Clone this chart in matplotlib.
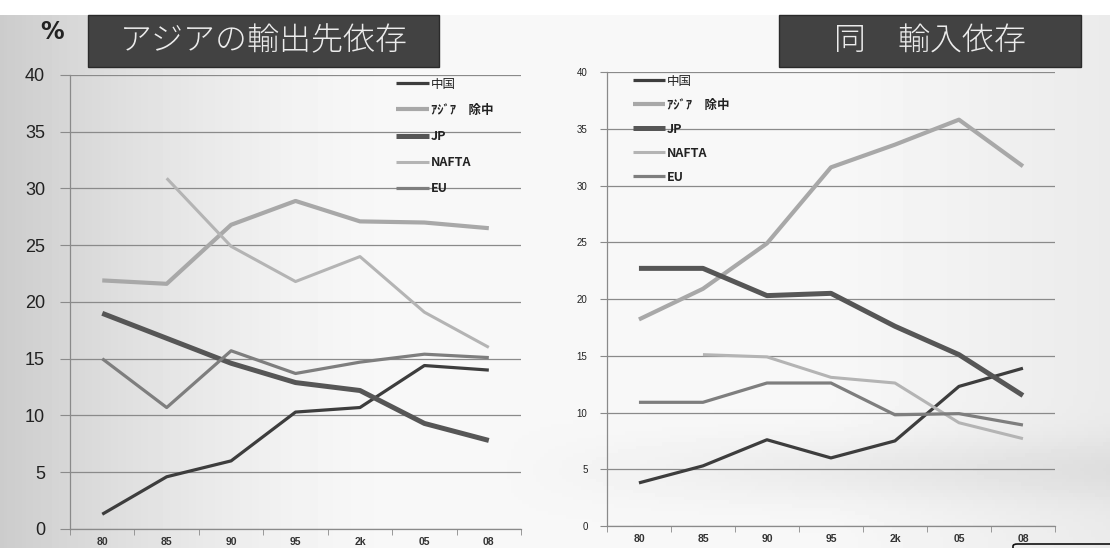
import numpy as np
import matplotlib
matplotlib.use('Agg')
import matplotlib.pyplot as plt
from matplotlib.patches import Rectangle, FancyBboxPatch

plt.rcParams['font.family'] = ['Noto Sans CJK JP', 'DejaVu Sans']

# -------------------------------
# data
# -------------------------------
years = ['80', '85', '90', '95', '2k', '05', '08']
labels = ['中国', 'ｱｼﾞｱ　除中', 'JP', 'NAFTA', 'EU']

# export dependence
exp_china = [1.3, 4.6, 6.0, 10.3, 10.7, 14.4, 14.0]
exp_asia = [21.9, 21.6, 26.8, 28.9, 27.1, 27.0, 26.5]
exp_jp = [19.0, 16.8, 14.6, 12.9, 12.2, 9.3, 7.8]
exp_nafta = [np.nan, 30.9, 24.9, 21.8, 24.0, 19.1, 16.0]
exp_eu = [15.0, 10.7, 15.7, 13.7, 14.7, 15.4, 15.1]

# import dependence
imp_china = [3.8, 5.3, 7.6, 6.0, 7.5, 12.3, 13.9]
imp_asia = [18.2, 20.9, 24.9, 31.6, 33.6, 35.8, 31.7]
imp_jp = [22.7, 22.7, 20.3, 20.5, 17.6, 15.1, 11.5]
imp_nafta = [np.nan, 15.1, 14.9, 13.1, 12.6, 9.1, 7.7]
imp_eu = [10.9, 10.9, 12.6, 12.6, 9.8, 9.9, 8.9]

colors = ['#3d3d3d', '#a8a8a8', '#565656', '#b4b4b4', '#7e7e7e']
widths = [2.3, 3.0, 3.6, 2.2, 2.3]

fig = plt.figure(figsize=(11.1, 5.48), dpi=100)

# slide-like gray gradient background
bg = fig.add_axes([0, 0, 1, 1], zorder=-10)
xx = np.linspace(0, 1, 300)
yy = np.linspace(0, 1, 150)
gx, gy = np.meshgrid(xx, yy)
shade = 0.97 - 0.17 * np.clip(1 - gx / 0.35, 0, 1) ** 1.5 - 0.05 * np.clip((gx - 0.75) / 0.25, 0, 1)
shade = shade - 0.05 * np.exp(-((gy - 0.86) / 0.06) ** 2) * np.clip((gx - 0.45) / 0.3, 0, 1)
shade[:4, :] = 1.0
bg.imshow(shade, cmap='gray', vmin=0, vmax=1, aspect='auto', extent=[0, 1, 0, 1])
bg.axis('off')


def draw_panel(rect, series, ytick_size, tick_len, leg_anchor, leg_font, leg_spacing):
    ax = fig.add_axes(rect)
    ax.patch.set_alpha(0)
    x = np.arange(len(years))
    for vals, lab, c, w in zip(series, labels, colors, widths):
        ax.plot(x, vals, color=c, lw=w, label=lab, solid_capstyle='butt')
    ax.set_xlim(-0.5, len(years) - 0.5)
    ax.set_ylim(0, 40)
    ax.set_yticks(range(0, 41, 5))
    ax.grid(axis='y', color='#8a8a8a', lw=0.9)
    ax.set_axisbelow(True)
    for s in ['top', 'right']:
        ax.spines[s].set_visible(False)
    for s in ['left', 'bottom']:
        ax.spines[s].set_color('#8a8a8a')
        ax.spines[s].set_linewidth(0.9)
    ax.set_xticks(x)
    ax.set_xticklabels(years, fontsize=7.5, color='#333333', fontweight='bold',
                       family=['Liberation Sans'])
    ax.set_xticks(np.arange(-0.5, len(years)), minor=True)
    ax.tick_params(axis='x', which='major', length=0, pad=6)
    ax.tick_params(axis='x', which='minor', length=4, color='#8a8a8a', direction='out')
    ax.tick_params(axis='y', length=tick_len, color='#8a8a8a', labelsize=ytick_size,
                   labelcolor='#222222', pad=tick_len + 4)
    for t in ax.get_yticklabels():
        t.set_family(['Liberation Sans'])
    leg = ax.legend(loc='upper left', bbox_to_anchor=leg_anchor, frameon=False,
                    fontsize=leg_font, handlelength=2.6, handletextpad=0.15,
                    labelspacing=leg_spacing, borderaxespad=0)
    for i, t in enumerate(leg.get_texts()):
        t.set_color('#222222')
        if i > 0:
            t.set_fontweight('bold')
    return ax


draw_panel([0.0631, 0.0347, 0.4063, 0.8285],
           [exp_china, exp_asia, exp_jp, exp_nafta, exp_eu],
           13, 7, (0.712, 1.005), 9, 1.05)
draw_panel([0.5468, 0.0401, 0.4036, 0.8285],
           [imp_china, imp_asia, imp_jp, imp_nafta, imp_eu],
           7, 5, (0.046, 1.005), 9, 0.88)

# title boxes
fig.patches.append(Rectangle((88 / 1110, 1 - 67 / 548), 351 / 1110, 52 / 548,
                             transform=fig.transFigure, facecolor='#424242',
                             edgecolor='#2a2a2a', lw=1))
fig.text(263.5 / 1110, 1 - 41 / 548, 'アジアの輸出先依存', ha='center', va='center',
         fontsize=23, color='#ececec', fontweight='light')
fig.patches.append(Rectangle((779 / 1110, 1 - 67 / 548), 302 / 1110, 52 / 548,
                             transform=fig.transFigure, facecolor='#424242',
                             edgecolor='#2a2a2a', lw=1))
fig.text(930 / 1110, 1 - 41 / 548, '同\u3000輸入依存', ha='center', va='center',
         fontsize=23, color='#ececec', fontweight='light')
fig.text(52 / 1110, 1 - 32 / 548, '%', ha='center', va='center', fontsize=17,
         fontweight='bold', color='#222222', family=['DejaVu Sans'])

# corner of the next box peeking in at the bottom right
fig.patches.append(FancyBboxPatch((1013 / 1110, -0.03), 0.2, 0.0373,
                                  boxstyle='round,pad=0,rounding_size=0.004',
                                  transform=fig.transFigure, facecolor='none',
                                  edgecolor='#111111', lw=1.2))

fig.savefig('out.png', dpi=100)
